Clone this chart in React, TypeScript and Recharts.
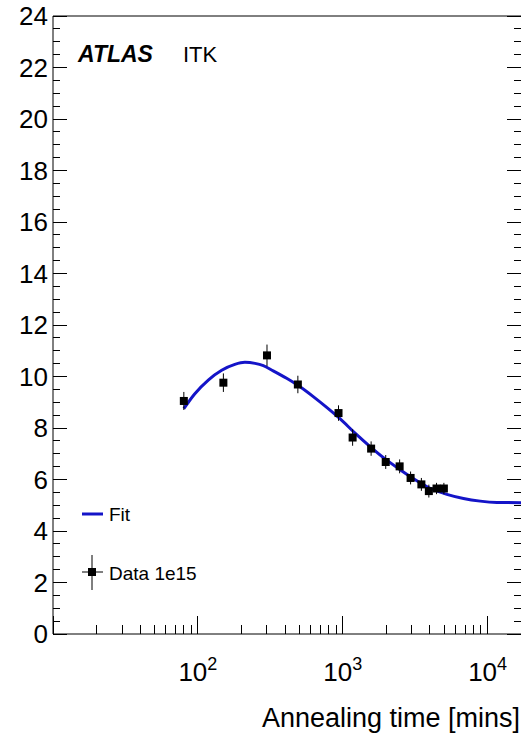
import React from 'react';
import { ComposedChart, Line, Scatter, ErrorBar, XAxis, YAxis, Legend } from 'recharts';

// fitted annealing curve, sampled along the time axis
const fitTime = [80, 95, 118, 146, 180, 211, 248, 283, 331, 410, 493, 626, 775, 957, 1216, 1544, 1961, 2489, 3246, 4009, 5233, 6814, 8890, 11590, 17000];
const fitValue = [8.75, 9.32, 9.86, 10.24, 10.47, 10.55, 10.51, 10.42, 10.22, 9.93, 9.65, 9.22, 8.8, 8.36, 7.8, 7.28, 6.8, 6.38, 5.95, 5.66, 5.42, 5.26, 5.16, 5.11, 5.1];

// measured points for the 1e15 sample
const sampleTime = [80, 150, 300, 490, 935, 1170, 1570, 1980, 2470, 2940, 3490, 3930, 4440, 4990];
const sampleValue = [9.05, 9.76, 10.82, 9.69, 8.58, 7.63, 7.2, 6.68, 6.51, 6.06, 5.81, 5.55, 5.65, 5.65];
const sampleError = [0.35, 0.36, 0.42, 0.34, 0.3, 0.32, 0.28, 0.27, 0.27, 0.25, 0.25, 0.25, 0.22, 0.22];

const xTicks = [
  10, 20, 30, 40, 50, 60, 70, 80, 90,
  100, 200, 300, 400, 500, 600, 700, 800, 900,
  1000, 2000, 3000, 4000, 5000, 6000, 7000, 8000, 9000,
  10000,
];
const xDecades = [10, 100, 1000, 10000];
const xLabelled = [100, 1000, 10000];
const yTicks = Array.from({ length: 49 }, (_, i) => i * 0.5);
const yLabelled = [0, 2, 4, 6, 8, 10, 12, 14, 16, 18, 20, 22, 24];

const X_DOMAIN = [10, 17000];
const FONT = '"Liberation Sans", Arial, Helvetica, sans-serif';
const FIT_COLOR = '#1414c8';

const fitData = fitTime.map((x, i) => ({ x, y: fitValue[i] }));
const points = sampleTime.map((x, i) => ({ x, y: sampleValue[i], err: sampleError[i] }));

const BottomTick = ({ x, y, payload }: any) => {
  const v = payload.value;
  const major = xDecades.includes(v);
  return (
    <g>
      <line x1={x} x2={x} y1={y} y2={y - (major ? 18 : 9)} stroke="#000" shapeRendering="crispEdges" />
      {xLabelled.includes(v) && (
        <text x={x} y={y + 47} textAnchor="middle" fontSize={26} fill="#000" fontFamily={FONT}>
          10
          <tspan dy={-11} fontSize={18}>
            {Math.round(Math.log10(v))}
          </tspan>
        </text>
      )}
    </g>
  );
};

const TopTick = ({ x, y, payload }: any) => {
  const major = xDecades.includes(payload.value);
  return <line x1={x} x2={x} y1={y} y2={y + (major ? 19 : 10)} stroke="#000" shapeRendering="crispEdges" />;
};

const LeftTick = ({ x, y, payload }: any) => {
  const v = payload.value;
  const major = yLabelled.includes(v);
  return (
    <g>
      <line x1={x} x2={x + (major ? 14 : 7)} y1={y} y2={y} stroke="#000" shapeRendering="crispEdges" />
      {major && (
        <text x={x - 5} y={y} dy="0.36em" textAnchor="end" fontSize={26} fill="#000" fontFamily={FONT}>
          {v}
        </text>
      )}
    </g>
  );
};

const RightTick = ({ x, y, payload }: any) => {
  const major = yLabelled.includes(payload.value);
  return <line x1={x} x2={x - (major ? 14 : 7)} y1={y} y2={y} stroke="#000" shapeRendering="crispEdges" />;
};

const AxisTitle = ({ viewBox }: any) => (
  <text
    x={viewBox.x + viewBox.width - 1}
    y={viewBox.y + 93}
    textAnchor="end"
    fontSize={27}
    fill="#000"
    fontFamily={FONT}
  >
    Annealing time [mins]
  </text>
);

const SquareMarker = ({ cx, cy }: any) => <rect x={cx - 4} y={cy - 4} width={8} height={8} fill="#000" />;

const renderLegend = () => (
  <svg width={160} height={100} style={{ fontFamily: FONT }}>
    <line x1={12} x2={33} y1={19} y2={19} stroke={FIT_COLOR} strokeWidth={3} />
    <text x={39} y={19} dy="0.36em" fontSize={19} fill="#000">
      Fit
    </text>
    <line x1={22} x2={22} y1={60} y2={95} stroke="#000" />
    <line x1={12} x2={33} y1={77} y2={77} stroke="#000" />
    <rect x={18} y={73} width={8} height={8} fill="#000" />
    <text x={39} y={78} dy="0.36em" fontSize={19} fill="#000">
      Data 1e15
    </text>
  </svg>
);

export default function App() {
  return (
    <div style={{ position: 'absolute', left: 0, top: 0, width: 522, height: 735, background: '#fff', fontFamily: FONT }}>
      <ComposedChart width={522} height={735} margin={{ top: 15, right: 0, bottom: 0, left: 0 }}>
        <XAxis
          xAxisId="bottom"
          dataKey="x"
          type="number"
          scale="log"
          domain={X_DOMAIN}
          allowDataOverflow
          ticks={xTicks}
          interval={0}
          tickSize={0}
          tickMargin={0}
          tickLine={false}
          tick={<BottomTick />}
          height={101}
          axisLine={{ stroke: '#000' }}
          label={<AxisTitle />}
        />
        <XAxis
          xAxisId="top"
          orientation="top"
          type="number"
          scale="log"
          domain={X_DOMAIN}
          allowDataOverflow
          ticks={xTicks}
          interval={0}
          tickSize={0}
          tickMargin={0}
          tickLine={false}
          tick={<TopTick />}
          height={1}
          axisLine={{ stroke: '#000' }}
        />
        <YAxis
          yAxisId="left"
          dataKey="y"
          type="number"
          domain={[0, 24]}
          allowDataOverflow
          ticks={yTicks}
          interval={0}
          tickSize={0}
          tickMargin={0}
          tickLine={false}
          tick={<LeftTick />}
          width={53}
          axisLine={{ stroke: '#000' }}
        />
        <YAxis
          yAxisId="right"
          orientation="right"
          type="number"
          domain={[0, 24]}
          allowDataOverflow
          ticks={yTicks}
          interval={0}
          tickSize={0}
          tickMargin={0}
          tickLine={false}
          tick={<RightTick />}
          width={1}
          axisLine={false}
        />
        <Legend
          layout="vertical"
          align="center"
          verticalAlign="middle"
          content={renderLegend}
          wrapperStyle={{ left: 70, top: 495, width: 160, height: 100 }}
        />
        <Line
          xAxisId="bottom"
          yAxisId="left"
          data={fitData}
          dataKey="y"
          name="Fit"
          type="monotone"
          stroke={FIT_COLOR}
          strokeWidth={3}
          dot={false}
          isAnimationActive={false}
        />
        <Scatter
          xAxisId="bottom"
          yAxisId="left"
          data={points}
          dataKey="y"
          name="Data 1e15"
          fill="#000"
          shape={<SquareMarker />}
          isAnimationActive={false}
        >
          <ErrorBar dataKey="err" direction="y" width={0} stroke="#000" strokeWidth={1} isAnimationActive={false} />
        </Scatter>
      </ComposedChart>
      <svg
        width={522}
        height={100}
        style={{ position: 'absolute', left: 0, top: 0, pointerEvents: 'none', fontFamily: FONT }}
      >
        <text x={78} y={62} fontSize={23} fontWeight="bold" fontStyle="italic" fill="#000">
          ATLAS
        </text>
        <text x={183} y={62} fontSize={22} fill="#000">
          ITK
        </text>
      </svg>
    </div>
  );
}
